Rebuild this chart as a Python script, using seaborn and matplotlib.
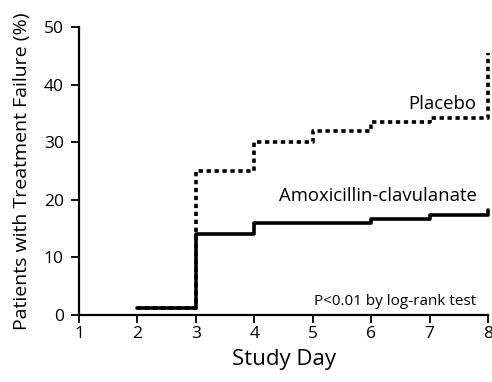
import matplotlib
matplotlib.use("Agg")
import matplotlib.pyplot as plt
import seaborn as sns
import pandas as pd

amox_days = [2, 3, 4, 5, 6, 7, 8]
amox_vals = [1.2, 14.0, 16.0, 16.0, 16.7, 17.3, 18.3]
plac_days = [2, 3, 4, 5, 6, 7, 8, 8]
plac_vals = [1.2, 25.0, 30.0, 32.0, 33.5, 34.3, 34.3, 45.5]
x_ticks = [1, 2, 3, 4, 5, 6, 7, 8]
y_ticks = [0, 10, 20, 30, 40, 50]

sns.set_theme(style="ticks")
plt.rcParams['font.family'] = ['Open Sans', 'DejaVu Sans']
plt.rcParams['text.color'] = 'black'
plt.rcParams['axes.labelcolor'] = 'black'
plt.rcParams['xtick.color'] = 'black'
plt.rcParams['ytick.color'] = 'black'

fig = plt.figure(figsize=(4.92, 3.82), dpi=100)
ax = fig.add_axes([0.1606, 0.1754, 0.8314, 0.7536])

amox = pd.DataFrame({"day": amox_days, "pct": amox_vals})
plac = pd.DataFrame({"day": plac_days, "pct": plac_vals})

sns.lineplot(data=plac, x="day", y="pct", ax=ax, color="black", lw=2.6,
             drawstyle="steps-post", sort=False, estimator=None,
             linestyle=(0, (1.2, 1.0)), zorder=2)
sns.lineplot(data=amox, x="day", y="pct", ax=ax, color="black", lw=2.6,
             drawstyle="steps-post", sort=False, estimator=None, zorder=3)
for ln in ax.lines:
    ln.set_clip_on(False)

ax.set_xlim(1, 8)
ax.set_ylim(0, 50)
ax.set_xticks(x_ticks)
ax.set_yticks(y_ticks)
ax.tick_params(axis="both", labelsize=12.5, length=6, width=1.3,
               color="black", labelcolor="black")
ax.tick_params(axis="y", pad=5)
ax.tick_params(axis="x", pad=2)
for s in ["top", "right"]:
    ax.spines[s].set_visible(False)
for s in ["left", "bottom"]:
    ax.spines[s].set_linewidth(1.6)
    ax.spines[s].set_color("black")
ax.spines["bottom"].set_zorder(1)

ax.set_xlabel("Study Day", fontsize=16, labelpad=5, color="black")
ax.set_ylabel("Patients with Treatment Failure (%)", fontsize=14, labelpad=9, color="black")

ax.text(7.8, 36.6, "Placebo", ha="right", va="center", fontsize=13.3, color="black")
ax.text(7.8, 20.6, "Amoxicillin-clavulanate", ha="right", va="center", fontsize=13.3, color="black")
ax.text(7.8, 2.4, "P<0.01 by log-rank test", ha="right", va="center", fontsize=11, color="black")

fig.savefig("out.png", dpi=100)
